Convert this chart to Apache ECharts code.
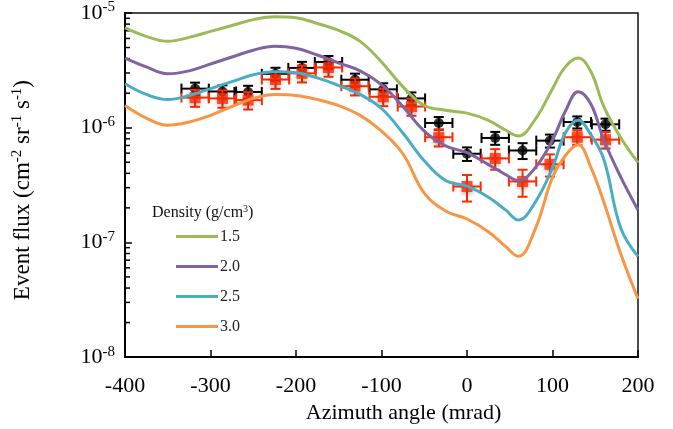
<!DOCTYPE html>
<html>
<head>
<meta charset="utf-8">
<script src="https://cdn.jsdelivr.net/npm/echarts@6.0.0/dist/echarts.min.js"></script>
<style>
  html, body { margin: 0; padding: 0; background: #fff; }
  #chart { width: 673px; height: 429px; }
</style>
</head>
<body>
<div id="chart"></div>
<script>
// Simulated flux curves for each rock density (g/cm3), sampled along azimuth (mrad)
const curveAngles = [-400,-375,-350,-325,-300,-275,-250,-225,-200,-175,-150,-125,-100,-75,-50,-25,0,25,45,60,80,100,115,130,145,160,180,200];
const flux15 = [7.47e-6,6.25e-6,5.66e-6,6.13e-6,6.91e-6,7.78e-6,8.76e-6,9.29e-6,9.11e-6,8.09e-6,7.04e-6,5.66e-6,3.74e-6,2.28e-6,1.56e-6,1.42e-6,1.34e-6,1.16e-6,9.54e-7,8.47e-7,1.19e-6,2.19e-6,3.39e-6,4.05e-6,3.07e-6,1.53e-6,8.14e-7,4.96e-7];
const flux20 = [4.05e-6,3.39e-6,2.95e-6,3.13e-6,3.59e-6,4.13e-6,4.74e-6,5.13e-6,4.93e-6,4.30e-6,3.66e-6,3.13e-6,2.37e-6,1.53e-6,9.35e-7,6.95e-7,6.05e-7,4.77e-7,3.91e-7,3.47e-7,4.49e-7,7.82e-7,1.39e-6,2.06e-6,1.60e-6,7.82e-7,3.69e-7,1.92e-7];
const flux25 = [2.42e-6,1.95e-6,1.76e-6,1.91e-6,2.19e-6,2.52e-6,2.89e-6,3.07e-6,3.01e-6,2.72e-6,2.33e-6,1.95e-6,1.47e-6,8.99e-7,5.16e-7,3.47e-7,3.09e-7,2.48e-7,1.92e-7,1.57e-7,2.25e-7,4.49e-7,8.99e-7,1.16e-6,8.64e-7,5.30e-7,1.32e-7,7.56e-8];
const flux30 = [1.56e-6,1.21e-6,1.05e-6,1.12e-6,1.28e-6,1.53e-6,1.80e-6,1.95e-6,1.91e-6,1.76e-6,1.56e-6,1.28e-6,9.35e-7,5.93e-7,2.69e-7,1.88e-7,1.60e-7,1.24e-7,9.22e-8,7.56e-8,1.32e-7,3.69e-7,5.70e-7,7.09e-7,4.49e-7,2.25e-7,7.87e-8,3.23e-8];
const densityNames = ['1.5', '2.0', '2.5', '3.0'];

// Measured flux per azimuth bin (two data sets) with uncertainties
const binAngles = [-318,-286,-256,-224,-193,-162,-131,-98,-65,-33,0,33,65,97,129,162];
const binHalfWidth = [16,16,16,16,16,16,16,16,16,16,16,16,16,16,16,16];
const fluxBlack = [2.19e-6,2.07e-6,2.05e-6,2.95e-6,3.32e-6,3.74e-6,2.62e-6,2.16e-6,1.80e-6,1.10e-6,5.93e-7,8.14e-7,6.33e-7,7.71e-7,1.12e-6,1.07e-6];
const errBlack  = [2.8e-7,2.7e-7,2.7e-7,3.8e-7,4.3e-7,4.8e-7,3.4e-7,2.8e-7,2.3e-7,1.4e-7,8.0e-8,1.05e-7,1.0e-7,1.0e-7,1.35e-7,1.3e-7];
const fluxRed   = [1.83e-6,1.80e-6,1.74e-6,2.63e-6,2.98e-6,3.35e-6,2.30e-6,1.86e-6,1.53e-6,8.26e-7,3.07e-7,5.40e-7,3.40e-7,4.80e-7,8.26e-7,7.87e-7];
const errRed    = [3.1e-7,3.1e-7,3.0e-7,4.5e-7,5.0e-7,5.7e-7,3.9e-7,3.2e-7,2.6e-7,1.4e-7,8.0e-8,1.1e-7,9.0e-8,1.05e-7,1.2e-7,1.3e-7];

// Axis ticks
const xTicks = [-400,-300,-200,-100,0,100,200];
const yDecades = [1e-8,1e-7,1e-6,1e-5];
const minorMantissas = [2,3,4,5,6,7,8,9];

const FONT = '"Liberation Serif", "Times New Roman", serif';
const lineColors = ['#9bbb59', '#8064a2', '#4bacc6', '#f79646'];
const curves = [flux15, flux20, flux25, flux30];

const minorTickData = [];
yDecades.slice(0, 3).forEach(d => minorMantissas.forEach(m => minorTickData.push([xTicks[0], m * d])));

function pointsWithErrors(ys, errs) {
  return binAngles.map((x, i) => [x, ys[i], binHalfWidth[i], errs[i]]);
}

function errorBarRenderer(color, lw) {
  return function (params, api) {
    const x = api.value(0), y = api.value(1), dx = api.value(2), dy = api.value(3);
    const c = api.coord([x, y]);
    const l = api.coord([x - dx, y]);
    const r = api.coord([x + dx, y]);
    const t = api.coord([x, y + dy]);
    const b = api.coord([x, Math.max(y - dy, 1e-9)]);
    const cap = 5;
    const style = { stroke: color, lineWidth: lw };
    const seg = (x1, y1, x2, y2) => ({ type: 'line', shape: { x1, y1, x2, y2 }, style });
    return {
      type: 'group',
      children: [
        seg(l[0], c[1], r[0], c[1]),
        seg(l[0], c[1] - cap, l[0], c[1] + cap),
        seg(r[0], c[1] - cap, r[0], c[1] + cap),
        seg(c[0], t[1], c[0], b[1]),
        seg(c[0] - cap, t[1], c[0] + cap, t[1]),
        seg(c[0] - cap, b[1], c[0] + cap, b[1])
      ]
    };
  };
}

const chart = echarts.init(document.getElementById('chart'), null, { renderer: 'canvas' });

const series = [];

// minor ticks on the log axis (2..9 within each decade), pointing inward
series.push({
  type: 'custom',
  silent: true,
  z: 1,
  data: minorTickData,
  renderItem: function (params, api) {
    const p = api.coord([api.value(0), api.value(1)]);
    return { type: 'line', shape: { x1: p[0], y1: p[1], x2: p[0] + 5, y2: p[1] }, style: { stroke: '#000', lineWidth: 1.5 } };
  }
});

series.push({
  name: 'errBlack', type: 'custom', z: 2, silent: true,
  data: pointsWithErrors(fluxBlack, errBlack),
  renderItem: errorBarRenderer('#000', 2)
});
series.push({
  name: 'ptBlack', type: 'scatter', z: 3, silent: true,
  data: binAngles.map((x, i) => [x, fluxBlack[i]]),
  symbol: 'circle', symbolSize: 10,
  itemStyle: { color: '#000' }
});
series.push({
  name: 'errRed', type: 'custom', z: 4, silent: true,
  data: pointsWithErrors(fluxRed, errRed),
  renderItem: errorBarRenderer('#ff2a00', 2)
});
series.push({
  name: 'ptRed', type: 'scatter', z: 5, silent: true,
  data: binAngles.map((x, i) => [x, fluxRed[i]]),
  symbol: 'rect', symbolSize: 11,
  itemStyle: { color: '#ff2a00', shadowBlur: 4, shadowColor: 'rgba(0,0,0,0.35)', shadowOffsetY: 2 }
});

curves.forEach((ys, k) => {
  series.push({
    name: densityNames[k],
    type: 'line',
    z: 6,
    data: curveAngles.map((x, i) => [x, ys[i]]),
    smooth: 0.4,
    showSymbol: false,
    symbol: 'none',
    lineStyle: { color: lineColors[k], width: 3 },
    itemStyle: { color: lineColors[k] }
  });
});

chart.setOption({
  animation: false,
  backgroundColor: '#fff',
  title: {
    text: 'Density (g/cm{s|3})',
    left: 147, top: 199,
    textStyle: {
      fontFamily: FONT, fontSize: 16, fontWeight: 'normal', color: '#111',
      rich: { s: { fontFamily: FONT, fontSize: 10, color: '#111', padding: [0, 0, 8, 0] } }
    }
  },
  legend: {
    data: densityNames,
    orient: 'vertical',
    left: 171, top: 221,
    icon: 'rect',
    itemWidth: 42, itemHeight: 3,
    itemGap: 9,
    textStyle: { fontFamily: FONT, fontSize: 16, color: '#222', lineHeight: 16, padding: [5, 0, 0, -3] }
  },
  grid: {
    left: 125, right: 35, top: 13, bottom: 67,
    show: true, borderColor: '#111', borderWidth: 1.5, backgroundColor: 'transparent'
  },
  xAxis: {
    type: 'value',
    min: xTicks[0], max: xTicks[xTicks.length - 1], interval: 100,
    name: 'Azimuth angle (mrad)',
    nameLocation: 'middle', nameGap: 43,
    nameTextStyle: { fontFamily: FONT, fontSize: 22, color: '#000', padding: [0, 0, 0, 44] },
    axisLine: { show: true, onZero: false, lineStyle: { color: '#000', width: 2 } },
    axisTick: { show: true, inside: true, length: 7, lineStyle: { color: '#000', width: 1.5 } },
    axisLabel: { fontFamily: FONT, fontSize: 22, color: '#000', margin: 18 },
    splitLine: { show: false }
  },
  yAxis: {
    type: 'log', logBase: 10,
    min: yDecades[0], max: yDecades[yDecades.length - 1],
    name: 'Event flux (cm{s|-2} sr{s|-1} s{s|-1})',
    nameLocation: 'middle', nameGap: 90, nameRotate: 90,
    nameTextStyle: {
      fontFamily: FONT, fontSize: 23, color: '#000', padding: [0, 10, 0, 0],
      rich: { s: { fontFamily: FONT, fontSize: 15, color: '#000', padding: [0, 0, 10, 0] } }
    },
    axisLine: { show: true, onZero: false, lineStyle: { color: '#000', width: 2 } },
    axisTick: { show: true, inside: true, length: 7, lineStyle: { color: '#000', width: 1.5 } },
    axisLabel: {
      margin: 10,
      formatter: function (v) {
        const e = Math.round(Math.log10(v));
        return '{b|10}{s|' + e + '}';
      },
      rich: {
        b: { fontFamily: FONT, fontSize: 22, color: '#000' },
        s: { fontFamily: FONT, fontSize: 15, color: '#000', padding: [0, 0, 11, 0] }
      }
    },
    splitLine: { show: false }
  },
  series: series
});
</script>
</body>
</html>
